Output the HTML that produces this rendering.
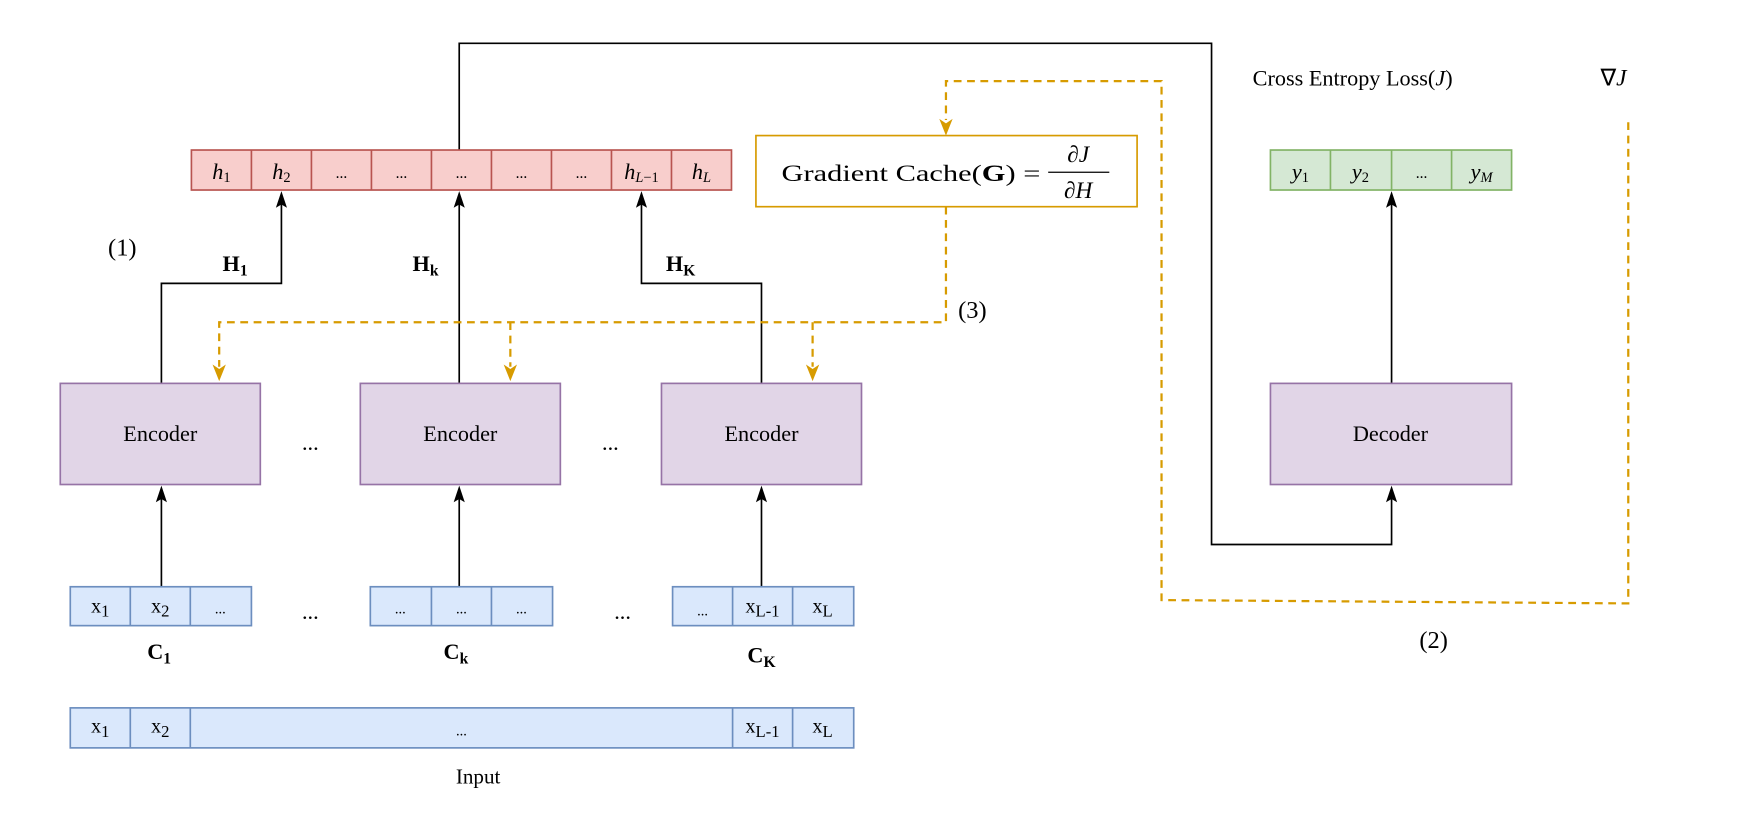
<!DOCTYPE html>
<html><head><meta charset="utf-8"><style>
html,body{margin:0;padding:0;background:#fff;}
svg{display:block;}
text{font-family:"Liberation Serif",serif;fill:#000;}
</style></head><body>
<svg width="1743" height="839" viewBox="0 0 1568 755" xmlns="http://www.w3.org/2000/svg">
<g fill="none" stroke="#000" stroke-width="1.5">
<path d="M413,135 V39 H1090 V490 H1252 V445"/>
<path d="M145,345 V255 H253 V180"/>
<path d="M413,345 V180"/>
<path d="M685,345 V255 H577 V180"/>
<path d="M1252,345 V180"/>
<path d="M145,528 V445"/>
<path d="M413,528 V445"/>
<path d="M685,528 V445"/>
</g>
<g fill="#000">
<path d="M248,187 L253,172 L258,187 L253,184Z"/>
<path d="M408,187 L413,172 L418,187 L413,184Z"/>
<path d="M572,187 L577,172 L582,187 L577,184Z"/>
<path d="M1247,187 L1252,172 L1257,187 L1252,184Z"/>
<path d="M140,452 L145,437 L150,452 L145,449Z"/>
<path d="M408,452 L413,437 L418,452 L413,449Z"/>
<path d="M680,452 L685,437 L690,452 L685,449Z"/>
<path d="M1247,452 L1252,437 L1257,452 L1252,449Z"/>
</g>
<g fill="none" stroke="#d79b00" stroke-width="2" stroke-dasharray="7,5">
<path d="M851,186 V290 H197 V330"/>
<path d="M459,290 V330"/>
<path d="M731,290 V330"/>
<path d="M1465,110 V543 L1045,540 V73 H851 V108"/>
</g>
<g fill="#d79b00">
<path d="M191,328 L197,343 L203,328 L197,332Z"/>
<path d="M453,328 L459,343 L465,328 L459,332Z"/>
<path d="M725,328 L731,343 L737,328 L731,332Z"/>
<path d="M845,107 L851,122 L857,107 L851,111Z"/>
</g>
<g stroke="#b85450" stroke-width="1.5" fill="#f8cecc">
<rect x="172" y="135" width="486" height="36"/>
<path d="M226,135V171M280,135V171M334,135V171M388,135V171M442,135V171M496,135V171M550,135V171M604,135V171" fill="none"/>
</g>
<g font-size="20" text-anchor="middle">
<text x="199" y="161"><tspan font-style="italic">h</tspan><tspan font-size="13" dy="3">1</tspan></text>
<text x="253" y="161"><tspan font-style="italic">h</tspan><tspan font-size="13" dy="3">2</tspan></text>
<text x="307" y="160" font-size="14">...</text>
<text x="361" y="160" font-size="14">...</text>
<text x="415" y="160" font-size="14">...</text>
<text x="469" y="160" font-size="14">...</text>
<text x="523" y="160" font-size="14">...</text>
<text x="577" y="161"><tspan font-style="italic">h</tspan><tspan font-size="13" dy="3" font-style="italic">L</tspan><tspan font-size="13">−1</tspan></text>
<text x="631" y="161"><tspan font-style="italic">h</tspan><tspan font-size="13" dy="3" font-style="italic">L</tspan></text>
</g>
<g stroke="#82b366" stroke-width="1.5" fill="#d5e8d4">
<rect x="1143" y="135" width="217" height="36"/>
<path d="M1197,135V171M1252,135V171M1306,135V171" fill="none"/>
</g>
<g font-size="20" text-anchor="middle" font-style="italic">
<text x="1170" y="161">y<tspan font-size="13" dy="3" font-style="normal">1</tspan></text>
<text x="1224" y="161">y<tspan font-size="13" dy="3" font-style="normal">2</tspan></text>
<text x="1279" y="160" font-size="14" font-style="normal">...</text>
<text x="1333" y="161">y<tspan font-size="13" dy="3">M</tspan></text>
</g>
<rect x="680" y="122" width="343" height="64" fill="#fff" stroke="#d79b00" stroke-width="1.5"/>
<text x="703" y="163" font-size="21" textLength="233" lengthAdjust="spacingAndGlyphs">Gradient Cache(<tspan font-weight="bold">G</tspan>) =</text>
<text x="970" y="146" font-size="21" text-anchor="middle"><tspan>∂</tspan><tspan font-style="italic">J</tspan></text>
<line x1="943" y1="155" x2="998" y2="155" stroke="#000" stroke-width="1.2"/>
<text x="970" y="178" font-size="21" text-anchor="middle"><tspan>∂</tspan><tspan font-style="italic">H</tspan></text>
<g font-size="22">
<text x="97" y="230">(1)</text>
<text x="862" y="286">(3)</text>
<text x="1277" y="583">(2)</text>
</g>
<g font-size="20" font-weight="bold">
<text x="200" y="244">H<tspan font-size="14" dy="4">1</tspan></text>
<text x="371" y="244">H<tspan font-size="14" dy="4">k</tspan></text>
<text x="599" y="244">H<tspan font-size="14" dy="4">K</tspan></text>
<text x="143" y="593" text-anchor="middle">C<tspan font-size="14" dy="4">1</tspan></text>
<text x="410" y="593" text-anchor="middle">C<tspan font-size="14" dy="4">k</tspan></text>
<text x="685" y="596" text-anchor="middle">C<tspan font-size="14" dy="4">K</tspan></text>
</g>
<text x="1127" y="77" font-size="20">Cross Entropy Loss(<tspan font-style="italic">J</tspan>)</text>
<text x="1440" y="77" font-size="21">∇<tspan font-style="italic">J</tspan></text>
<g fill="#e1d5e7" stroke="#9673a6" stroke-width="1.5">
<rect x="54" y="345" width="180" height="91"/>
<rect x="324" y="345" width="180" height="91"/>
<rect x="595" y="345" width="180" height="91"/>
<rect x="1143" y="345" width="217" height="91"/>
</g>
<g font-size="20" text-anchor="middle">
<text x="144" y="397">Encoder</text>
<text x="414" y="397">Encoder</text>
<text x="685" y="397">Encoder</text>
<text x="1251" y="397">Decoder</text>
<text x="279" y="405">...</text>
<text x="549" y="405">...</text>
<text x="279" y="557">...</text>
<text x="560" y="557">...</text>
<text x="430" y="705" font-size="19">Input</text>
</g>
<g fill="#dae8fc" stroke="#6c8ebf" stroke-width="1.5">
<rect x="63" y="528" width="163" height="35"/>
<rect x="333" y="528" width="164" height="35"/>
<rect x="605" y="528" width="163" height="35"/>
<rect x="63" y="637" width="705" height="36"/>
<path fill="none" d="M117,528V563M171,528V563M388,528V563M442,528V563M659,528V563M713,528V563M117,637V673M171,637V673M659,637V673M713,637V673"/>
</g>
<g font-size="18" text-anchor="middle">
<text x="90" y="551">x<tspan font-size="15" dy="4">1</tspan></text>
<text x="144" y="551">x<tspan font-size="15" dy="4">2</tspan></text>
<text x="198" y="552" font-size="13">...</text>
<text x="360" y="552" font-size="13">...</text>
<text x="415" y="552" font-size="13">...</text>
<text x="469" y="552" font-size="13">...</text>
<text x="632" y="554" font-size="13">...</text>
<text x="686" y="551">x<tspan font-size="15" dy="4">L-1</tspan></text>
<text x="740" y="551">x<tspan font-size="15" dy="4">L</tspan></text>
<text x="90" y="659">x<tspan font-size="15" dy="4">1</tspan></text>
<text x="144" y="659">x<tspan font-size="15" dy="4">2</tspan></text>
<text x="415" y="662" font-size="13">...</text>
<text x="686" y="659">x<tspan font-size="15" dy="4">L-1</tspan></text>
<text x="740" y="659">x<tspan font-size="15" dy="4">L</tspan></text>
</g>
</svg>
</body></html>
